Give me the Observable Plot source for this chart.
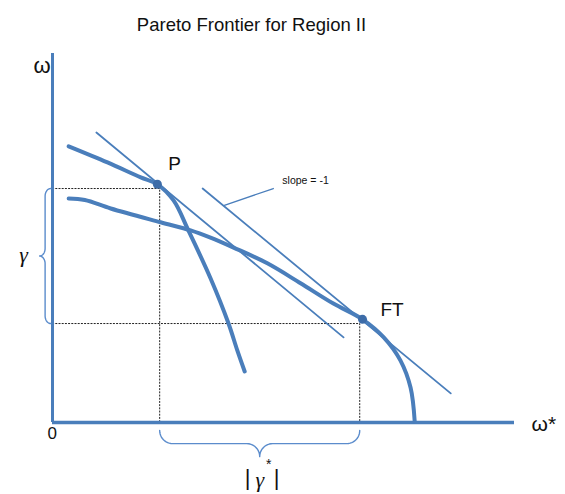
<!DOCTYPE html>
<html><head><meta charset="utf-8">
<script src="https://cdn.jsdelivr.net/npm/d3@7"></script>
<script src="https://cdn.jsdelivr.net/npm/@observablehq/plot@0.6"></script>
<style>body{margin:0;background:#fff}</style>
</head><body><div id="chart"></div>
<script>
// ---- data (diagram units) ----
const curvePX = [0.35, 1.19, 1.91, 2.27, 2.62, 2.94, 3.42, 3.81, 4.00, 4.16];
const curvePY = [7.20, 6.78, 6.39, 6.21, 5.79, 5.01, 3.76, 2.58, 1.88, 1.33];
const curveFTX = [0.35, 0.70, 1.26, 2.34, 2.99, 3.42, 3.92, 4.65, 5.37, 6.08, 6.71, 7.17, 7.53, 7.75, 7.84];
const curveFTY = [5.84, 5.80, 5.58, 5.22, 5.01, 4.82, 4.56, 4.15, 3.63, 3.10, 2.69, 2.22, 1.62, 0.91, 0.03];
const tangent1X = [0.95, 6.30], tangent1Y = [7.56, 2.22];
const tangent2X = [3.25, 8.62], tangent2Y = [6.10, 0.76];
const pointNames = ["P", "FT"];
const pointX = [2.27, 6.71], pointY = [6.21, 2.69];
const cornerX = [2.32, 6.65], cornerY = [6.10, 2.58];
const slopeLeaderX = [3.72, 4.78], slopeLeaderY = [5.66, 6.10];
const axisMax = {x: 10, y: 9.62};
const title = "Pareto Frontier for Region II";
const slopeLabel = "slope = -1";

// ---- build tables ----
const zip = (xs, ys) => xs.map((x, i) => ({x, y: ys[i]}));
const curveP = zip(curvePX, curvePY);
const curveFT = zip(curveFTX, curveFTY);
const tan1 = zip(tangent1X, tangent1Y);
const tan2 = zip(tangent2X, tangent2Y);
const pts = pointNames.map((n, i) => ({name: n, x: pointX[i], y: pointY[i]}));
const leader = zip(slopeLeaderX, slopeLeaderY);

const dotted = [
  [{x: 0, y: cornerY[0]}, {x: cornerX[0], y: cornerY[0]}, {x: cornerX[0], y: 0}],
  [{x: 0, y: cornerY[1]}, {x: cornerX[1], y: cornerY[1]}, {x: cornerX[1], y: 0}]
];

function arc(cx, cy, rx, ry, a0, a1, n = 12) {
  return d3.range(n + 1).map(i => {
    const t = (a0 + (a1 - a0) * i / n) * Math.PI / 180;
    return {x: cx + rx * Math.cos(t), y: cy + ry * Math.sin(t)};
  });
}
// left brace (points left)
function vBrace(x0, yTop, yBot, rx, ry) {
  const mid = (yTop + yBot) / 2;
  return [
    ...arc(x0, yTop - ry, rx, ry, 90, 180),
    ...arc(x0 - 2 * rx, mid + ry, rx, ry, 0, -90),
    ...arc(x0 - 2 * rx, mid - ry, rx, ry, 90, 0),
    ...arc(x0, yBot + ry, rx, ry, 180, 270)
  ];
}
// bottom brace (points down)
function hBrace(xL, xR, y0, rx, ry) {
  const mid = (xL + xR) / 2;
  return [
    ...arc(xL + rx, y0, rx, ry, 180, 270),
    ...arc(mid - rx, y0 - 2 * ry, rx, ry, 90, 0),
    ...arc(mid + rx, y0 - 2 * ry, rx, ry, 180, 90),
    ...arc(xR - rx, y0, rx, ry, 270, 360)
  ];
}
const braceL = vBrace(-0.04, cornerY[0], cornerY[1], 0.12, 0.2);
const braceB = hBrace(cornerX[0], cornerX[1], -0.21, 0.28, 0.34);
const midX = (cornerX[0] + cornerX[1]) / 2;

const blue = "#4a7ebb";
const font = "'Liberation Sans', Arial, sans-serif";
const serif = "'Liberation Serif', 'Times New Roman', serif";

const chart = Plot.plot({
  width: 565, height: 494,
  marginLeft: 52, marginRight: 51, marginTop: 53, marginBottom: 72,
  x: {domain: [0, axisMax.x], axis: null},
  y: {domain: [0, axisMax.y], axis: null},
  style: {fontFamily: font, background: "#fff", color: "#111"},
  marks: [
    // dotted guides
    ...dotted.map(d => Plot.line(d, {x: "x", y: "y", stroke: "#222", strokeWidth: 1, strokeDasharray: "1.2,2"})),
    // axes
    Plot.ruleX([0], {y1: 0, y2: axisMax.y, stroke: blue, strokeWidth: 3}),
    Plot.ruleY([0], {x1: 0, x2: axisMax.x, stroke: blue, strokeWidth: 3.5}),
    // tangent lines
    Plot.line(tan1, {x: "x", y: "y", stroke: blue, strokeWidth: 1.8}),
    Plot.line(tan2, {x: "x", y: "y", stroke: blue, strokeWidth: 1.8}),
    Plot.line(leader, {x: "x", y: "y", stroke: blue, strokeWidth: 1.3}),
    // frontier curves
    Plot.line(curveP, {x: "x", y: "y", stroke: blue, strokeWidth: 4, curve: "catmull-rom"}),
    Plot.line(curveFT, {x: "x", y: "y", stroke: blue, strokeWidth: 4, curve: "catmull-rom"}),
    // braces
    Plot.line(braceL, {x: "x", y: "y", stroke: "#5b8ccc", strokeWidth: 1.4}),
    Plot.line(braceB, {x: "x", y: "y", stroke: "#5b8ccc", strokeWidth: 1.4}),
    // points
    Plot.dot(pts, {x: "x", y: "y", r: 4.5, fill: "#3d6ca8"}),
    Plot.text(pts.filter(d => d.name === "P"), {x: "x", y: "y", text: "name", fontSize: 19, textAnchor: "start", dx: 11, dy: -20}),
    Plot.text(pts.filter(d => d.name === "FT"), {x: "x", y: "y", text: "name", fontSize: 19, textAnchor: "start", dx: 18, dy: -9}),
    // slope annotation
    Plot.text([slopeLabel], {x: slopeLeaderX[1], y: slopeLeaderY[1], fontSize: 10.5, textAnchor: "start", dx: 9, dy: -8}),
    // axis labels
    Plot.text(["ω"], {frameAnchor: "top-left", dx: -19, dy: 4, fontSize: 22}),
    Plot.text(["ω*"], {frameAnchor: "bottom-right", textAnchor: "start", dx: 17, dy: 8, fontSize: 21}),
    Plot.text(["0"], {frameAnchor: "bottom-left", dx: -5, dy: 16, fontSize: 17}),
    Plot.text(["γ"], {x: 0, y: (cornerY[0] + cornerY[1]) / 2, dx: -29, dy: -1, fontSize: 22, fontStyle: "italic", fontFamily: serif}),
    Plot.text(["|"], {x: midX, y: 0, dx: -12, dy: 55, fontSize: 22}),
    Plot.text(["|"], {x: midX, y: 0, dx: 17, dy: 55, fontSize: 22}),
    Plot.text(["γ"], {x: midX, y: 0, dx: 0, dy: 57, fontSize: 22, fontStyle: "italic", fontFamily: serif}),
    Plot.text(["*"], {x: midX, y: 0, dx: 9, dy: 42, fontSize: 14}),
    // title
    Plot.text([title], {frameAnchor: "top", dx: -32, dy: -36, fontSize: 18.5})
  ]
});
document.getElementById("chart").append(chart);
</script>
</body></html>
